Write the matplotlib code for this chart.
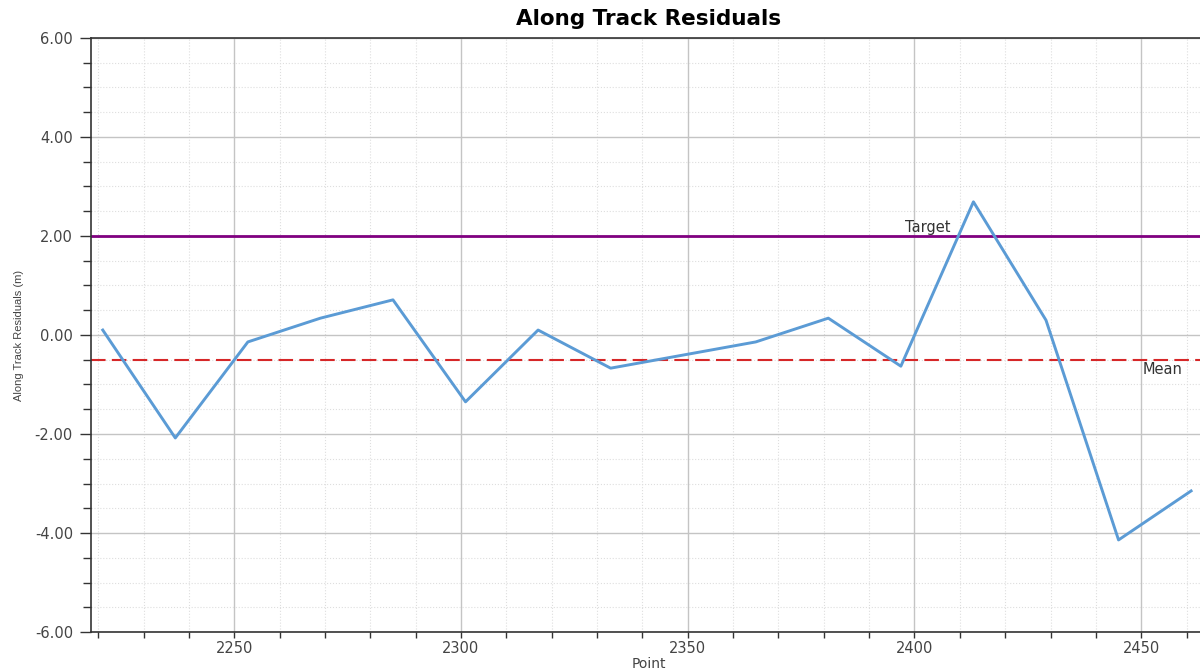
import matplotlib.pyplot as plt
from matplotlib.ticker import MultipleLocator, FormatStrFormatter

points = [2221, 2237, 2253, 2269, 2285, 2301, 2317, 2333, 2365, 2381, 2397, 2413, 2429, 2445, 2461]
residuals = [0.10, -2.08, -0.14, 0.34, 0.71, -1.35, 0.10, -0.67, -0.14, 0.34, -0.63, 2.69, 0.30, -4.14, -3.15]
target = 2.0
mean = sum(residuals) / len(residuals)

plt.rcParams['font.family'] = ['DejaVu Sans']

fig = plt.figure(figsize=(12, 6.71), dpi=100)
ax = fig.add_axes([0.0758, 0.0581, 0.93, 0.8853])

ax.plot(points, residuals, color='#5b9bd5', linewidth=2.1, zorder=3)
ax.axhline(target, color='#800080', linewidth=2.0, zorder=2)
ax.axhline(mean, color='#d62728', linewidth=1.5, linestyle=(0, (7, 3)), zorder=2)

ax.text(2398, target + 0.01, 'Target', fontsize=10.5, color='#333333', va='bottom', ha='left')
ax.text(2459, mean - 0.03, 'Mean', fontsize=10.5, color='#333333', va='top', ha='right')

ax.set_xlim(2218.4, 2464.5)
ax.set_ylim(-6, 6)
ax.xaxis.set_major_locator(MultipleLocator(50))
ax.xaxis.set_minor_locator(MultipleLocator(10))
ax.yaxis.set_major_locator(MultipleLocator(2))
ax.yaxis.set_minor_locator(MultipleLocator(0.5))
ax.yaxis.set_major_formatter(FormatStrFormatter('%.2f'))

ax.grid(which='major', color='#c4c4c4', linewidth=1.0)
ax.grid(which='minor', color='#dedede', linewidth=0.8, linestyle=':')
ax.set_axisbelow(True)

ax.tick_params(which='both', direction='out', width=1, color='#333333', labelsize=10.5, labelcolor='#444444')
ax.tick_params(axis='x', which='both', length=4.5, pad=2)
ax.tick_params(axis='y', which='major', length=8, pad=5)
ax.tick_params(axis='y', which='minor', length=5.5)

for side in ['left', 'bottom', 'top']:
    ax.spines[side].set_color('#333333')
    ax.spines[side].set_linewidth(1.2)
ax.spines['right'].set_visible(False)

ax.set_title('Along Track Residuals', fontsize=15.5, fontweight='bold', pad=9)
ax.set_xlabel('Point', fontsize=10, color='#444444', labelpad=1)
ax.set_ylabel('Along Track Residuals (m)', fontsize=8, color='#444444',
              family=['Liberation Sans', 'DejaVu Sans'], labelpad=8)

fig.savefig('out.png', dpi=100)
